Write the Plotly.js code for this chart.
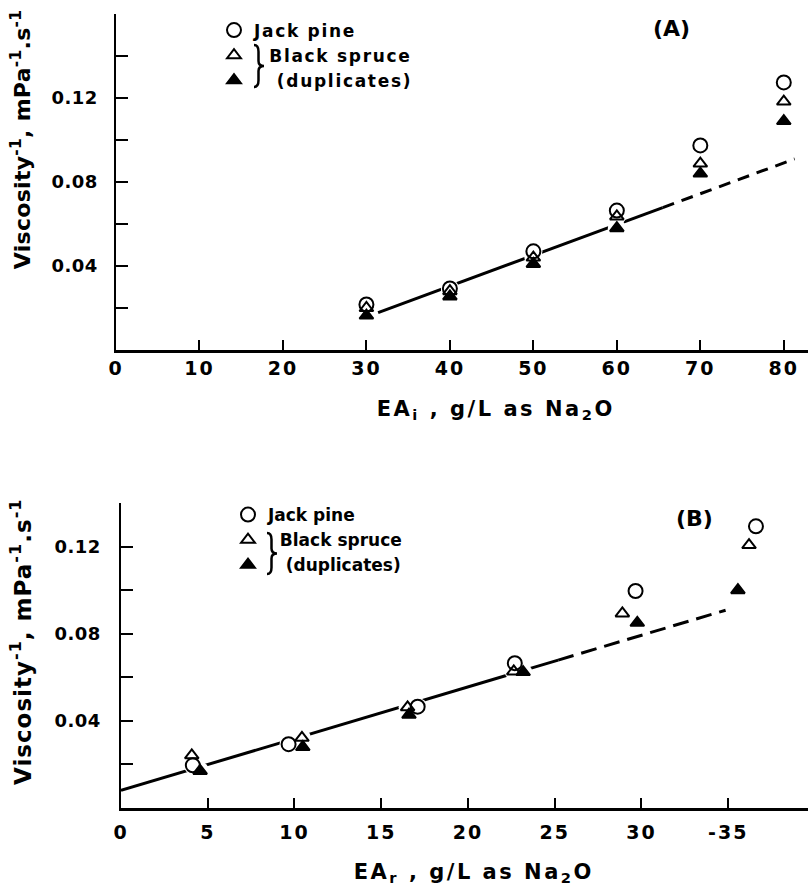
<!DOCTYPE html>
<html>
<head>
<meta charset="utf-8">
<script src="https://cdn.plot.ly/plotly-3.0.1.min.js"></script>
<style>
  html, body { margin: 0; padding: 0; background: #fff; }
  #chart { width: 808px; height: 893px; }
  .xtick text, .x2tick text { letter-spacing: 2px; }
  .ytick text, .y2tick text { letter-spacing: 0.5px; }
  .legendtext { letter-spacing: 1.7px; }
</style>
</head>
<body>
<div id="chart"></div>
<script>
// ---------- Panel A : EA_i ----------
const eaI = [30, 40, 50, 60, 70, 80];
const jackPineA = [0.0217, 0.0293, 0.047, 0.0664, 0.0974, 0.1274];
const spruceOpenA = [0.020, 0.028, 0.044, 0.0636, 0.0888, 0.1183];
const spruceFilledA = [0.0164, 0.0255, 0.041, 0.058, 0.084, 0.109];
const fitA_solid_x = [31.4, 65.5];
const fitA_solid_y = [0.0178, 0.0678];
const fitA_dash_x = [65.5, 81.3];
const fitA_dash_y = [0.0678, 0.0910];

// ---------- Panel B : EA_r ----------
const jackPineB_x = [4.14, 9.66, 17.1, 22.7, 29.66, 36.6];
const jackPineB_y = [0.0196, 0.0293, 0.0465, 0.0665, 0.0996, 0.1293];
const spruceOpenB_x = [4.08, 10.43, 16.52, 22.64, 28.9, 36.2];
const spruceOpenB_y = [0.0242, 0.0322, 0.0462, 0.0627, 0.0893, 0.1207];
const spruceFilledB_x = [4.56, 10.48, 16.6, 23.18, 29.76, 35.56];
const spruceFilledB_y = [0.0170, 0.028, 0.0428, 0.0624, 0.085, 0.1000];
const fitB_solid_x = [0, 25.2];
const fitB_solid_y = [0.0081, 0.0679];
const fitB_dash_x = [25.2, 34.85];
const fitB_dash_y = [0.0679, 0.0908];

// ---------- Ticks ----------
const xTicksA = [0, 10, 20, 30, 40, 50, 60, 70, 80];
const xTickTextA = ['0', '10', '20', '30', '40', '50', '60', '70', '80'];
const xTicksB = [0, 5, 10, 15, 20, 25, 30, 35];
const xTickTextB = ['0', '5', '10', '15', '20', '25', '30', '-35'];
const yTicksMajor = [0.04, 0.08, 0.12];
const yTickText = ['0.04', '0.08', '0.12'];
const yTicksMinor = [0.02, 0.06, 0.10, 0.14];

// ---------- Text ----------
const NB = '\u00a0';
const nameJack = 'Jack pine';
const nameSpruce = NB + NB + 'Black spruce';
const nameDup = NB + NB + NB + '(duplicates)';
const yTitle = 'Viscosity<sup>-1</sup>, mPa<sup>-1</sup>.s<sup>-1</sup>';
const xTitleA = 'EA<sub>i</sub> , g/L as Na<sub>2</sub>O';
const xTitleB = 'EA<sub>r</sub> , g/L as Na<sub>2</sub>O';

const FONT = 'DejaVu Sans';
const W = 808, H = 893;
const px = v => v / W;
const py = v => 1 - v / H;

function lineTrace(x, y, xa, ya, dash) {
  return {x: x, y: y, xaxis: xa, yaxis: ya, mode: 'lines', showlegend: false, hoverinfo: 'skip',
          line: {color: 'black', width: 3, dash: dash}};
}
function haloTrace(x, y, xa, ya) {
  return {x: x, y: y, xaxis: xa, yaxis: ya, mode: 'markers', showlegend: false, hoverinfo: 'skip',
          marker: {symbol: 'circle', size: 18, color: 'white', line: {width: 0}}};
}
function markerTrace(x, y, xa, ya, name, symbol, size, legend, rank) {
  return {x: x, y: y, xaxis: xa, yaxis: ya, mode: 'markers', name: name, legend: legend, legendrank: rank,
          marker: {symbol: symbol, size: size, color: 'black', line: {color: 'black', width: 2}}};
}

const data = [
  lineTrace(fitA_solid_x, fitA_solid_y, 'x', 'y', 'solid'),
  lineTrace(fitA_dash_x, fitA_dash_y, 'x', 'y', '12px,8px'),
  haloTrace([].concat(eaI, eaI, eaI), [].concat(jackPineA, spruceOpenA, spruceFilledA), 'x', 'y'),
  markerTrace(eaI, spruceFilledA, 'x', 'y', nameDup, 'triangle-up', 12, 'legend', 3),
  markerTrace(eaI, spruceOpenA, 'x', 'y', nameSpruce, 'triangle-up-open', 12, 'legend', 2),
  markerTrace(eaI, jackPineA, 'x', 'y', nameJack, 'circle-open', 14, 'legend', 1),

  lineTrace(fitB_solid_x, fitB_solid_y, 'x2', 'y2', 'solid'),
  lineTrace(fitB_dash_x, fitB_dash_y, 'x2', 'y2', '16px,8px'),
  haloTrace([].concat(jackPineB_x, spruceOpenB_x, spruceFilledB_x),
            [].concat(jackPineB_y, spruceOpenB_y, spruceFilledB_y), 'x2', 'y2'),
  markerTrace(spruceFilledB_x, spruceFilledB_y, 'x2', 'y2', nameDup, 'triangle-up', 12, 'legend2', 3),
  markerTrace(spruceOpenB_x, spruceOpenB_y, 'x2', 'y2', nameSpruce, 'triangle-up-open', 12, 'legend2', 2),
  markerTrace(jackPineB_x, jackPineB_y, 'x2', 'y2', nameJack, 'circle-open', 14, 'legend2', 1)
];

const axisCommon = {
  showline: true, linewidth: 2.5, linecolor: 'black', showgrid: false, zeroline: false,
  ticks: 'inside', tickwidth: 2, tickcolor: 'black', tickmode: 'array', fixedrange: true
};
const tickFontX = {family: FONT, size: 19, color: 'black', weight: 'bold'};
const tickFontY = {family: FONT, size: 18, color: 'black', weight: 'bold'};
const legendFont = {family: FONT, size: 17, color: 'black', weight: 'bold'};
const yMinor = {tickmode: 'array', tickvals: yTicksMinor, ticks: 'inside', ticklen: 12, tickwidth: 2,
                tickcolor: 'black', showgrid: false};

function ann(text, x, y, size, extra) {
  return Object.assign({text: text, xref: 'paper', yref: 'paper', x: px(x), y: py(y),
    xanchor: 'center', yanchor: 'middle', showarrow: false,
    font: {family: FONT, size: size, weight: 'bold', color: 'black'}}, extra || {});
}

// curly brace joining the two Black spruce legend rows (drawn as a path, in pixel -> paper units)
function bracePath(x0, y0, w, h) {
  const P = (x, y) => px(x).toFixed(5) + ',' + py(y).toFixed(5);
  const xm = x0 + w * 0.45, xr = x0 + w, ym = y0 + h / 2;
  return 'M' + P(x0, y0) + ' Q' + P(xm, y0) + ' ' + P(xm, y0 + h * 0.16) +
         ' L' + P(xm, ym - h * 0.12) + ' Q' + P(xm, ym) + ' ' + P(xr, ym) +
         ' Q' + P(xm, ym) + ' ' + P(xm, ym + h * 0.12) +
         ' L' + P(xm, y0 + h * 0.84) + ' Q' + P(xm, y0 + h) + ' ' + P(x0, y0 + h);
}
function braceShape(x0, y0, w, h) {
  return {type: 'path', xref: 'paper', yref: 'paper', path: bracePath(x0, y0, w, h),
          line: {color: 'black', width: 2.5}, fillcolor: 'rgba(0,0,0,0)'};
}

const layout = {
  width: W, height: H,
  margin: {l: 0, r: 0, t: 0, b: 0, autoexpand: false},
  paper_bgcolor: 'white', plot_bgcolor: 'rgba(0,0,0,0)',
  font: {family: FONT, color: 'black'},
  showlegend: true,
  xaxis: Object.assign({}, axisCommon, {domain: [px(116), 1], range: [0, 82.9], anchor: 'y',
    tickvals: xTicksA, ticktext: xTickTextA, ticklen: 10, tickfont: tickFontX, ticklabelstandoff: 0}),
  yaxis: Object.assign({}, axisCommon, {domain: [py(350), py(14)], range: [0, 0.16], anchor: 'x',
    tickvals: yTicksMajor, ticktext: yTickText, ticklen: 12, tickfont: tickFontY, ticklabelstandoff: 12,
    minor: yMinor}),
  xaxis2: Object.assign({}, axisCommon, {domain: [px(121), 1], range: [0, 39.6], anchor: 'y2',
    tickvals: xTicksB, ticktext: xTickTextB, ticklen: 10, tickfont: tickFontX, ticklabelstandoff: 6}),
  yaxis2: Object.assign({}, axisCommon, {domain: [py(808), py(503)], range: [0, 0.14], anchor: 'x2',
    tickvals: yTicksMajor, ticktext: yTickText, ticklen: 12, tickfont: tickFontY, ticklabelstandoff: 14,
    minor: yMinor}),
  legend: {x: px(214), y: py(12.5), xanchor: 'left', yanchor: 'top', bgcolor: 'rgba(0,0,0,0)',
    borderwidth: 0, font: legendFont, traceorder: 'normal'},
  legend2: {x: px(228), y: py(497), xanchor: 'left', yanchor: 'top', bgcolor: 'rgba(0,0,0,0)',
    borderwidth: 0, font: legendFont, traceorder: 'normal'},
  shapes: [
    braceShape(254, 45, 10, 42),
    braceShape(267, 533, 10, 41)
  ],
  annotations: [
    ann('(A)', 671, 28, 22),
    ann('(B)', 694, 518, 22),
    ann(xTitleA, 495, 410, 21),
    ann(xTitleB, 474, 873, 21),
    ann(yTitle, 21, 140, 22, {textangle: -90}),
    ann(yTitle, 21, 642, 23, {textangle: -90})
  ]
};

Plotly.newPlot('chart', data, layout, {staticPlot: true, displayModeBar: false}).then(function () {
  const spacing = {2: '2.5px', 3: '2.5px', 4: '0.3px', 5: '1px'};
  Object.keys(spacing).forEach(function (i) {
    document.querySelectorAll('g.annotation[data-index="' + i + '"] text').forEach(function (t) {
      t.style.letterSpacing = spacing[i];
    });
  });
});
</script>
</body>
</html>
